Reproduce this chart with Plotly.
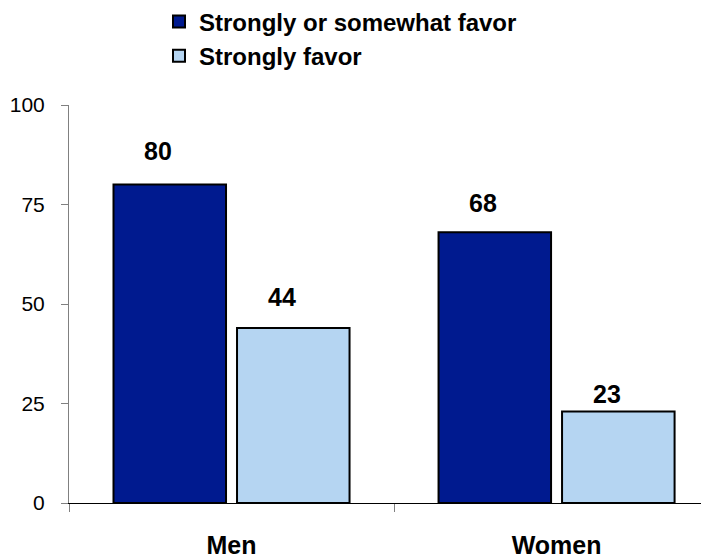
import plotly.graph_objects as go

categories = ["Men", "Women"]
series_names = ["Strongly or somewhat favor", "Strongly favor"]
series_values = [[80, 68], [44, 23]]
series_colors = ["#001A8F", "#B5D5F2"]
y_ticks = [0, 25, 50, 75, 100]

FONT = "Liberation Sans, Arial"

fig = go.Figure()
for name, vals, col in zip(series_names, series_values, series_colors):
    fig.add_trace(go.Bar(
        x=categories, y=vals, name=name,
        marker=dict(color=col, line=dict(color="black", width=2)),
        hoverinfo="skip",
    ))

# label placement (pixels): horizontal shift per series, vertical gap per label
label_dx = [-74, 50]
label_dy = [[34, 29], [31, 17]]
for vals, dx, dys in zip(series_values, label_dx, label_dy):
    for cat, v, dy in zip(categories, vals, dys):
        fig.add_annotation(
            x=cat, y=v, xref="x", yref="y", text=f"<b>{v}</b>",
            showarrow=False, xshift=dx, yshift=dy, yanchor="middle",
            font=dict(family=FONT, size=25, color="black"),
        )

# page body has an 8px margin: figure sized to fill the rest of the window
fig.update_layout(
    width=701, height=551,
    margin=dict(l=61, r=0, t=97, b=56, autoexpand=False),
    plot_bgcolor="white", paper_bgcolor="white",
    barmode="group", bargap=0.24, bargroupgap=0.089,
    font=dict(family=FONT, color="black"),
    showlegend=True,
    legend=dict(
        x=0.1406, y=1.2655, xanchor="left", yanchor="top",
        orientation="v",
        font=dict(family=FONT, size=24, color="black", weight="bold"),
        bgcolor="rgba(0,0,0,0)",
    ),
    xaxis=dict(
        type="category", range=[-0.5, 1.469],
        showline=True, linecolor="black", linewidth=1,
        ticks="outside", tickson="boundaries", ticklen=8, tickcolor="#808080",
        tickfont=dict(family=FONT, size=25, color="black", weight="bold"),
        ticklabelstandoff=20,
        showgrid=False, zeroline=False, fixedrange=True,
    ),
    yaxis=dict(
        range=[0, 100], tickvals=y_ticks,
        showline=True, linecolor="#808080", linewidth=1,
        ticks="outside", ticklen=7, tickcolor="#808080",
        tickfont=dict(family=FONT, size=21, color="black"),
        ticklabelstandoff=12,
        showgrid=False, zeroline=False, fixedrange=True,
    ),
)

fig.write_html("out.html")
